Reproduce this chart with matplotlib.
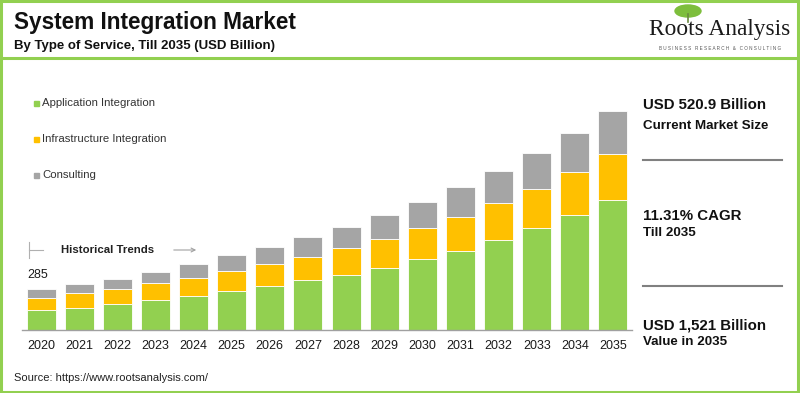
import matplotlib
matplotlib.use("Agg")
import matplotlib.pyplot as plt
from matplotlib.patches import Rectangle, Ellipse
from matplotlib.lines import Line2D

years = ["2020", "2021", "2022", "2023", "2024", "2025", "2026", "2027",
         "2028", "2029", "2030", "2031", "2032", "2033", "2034", "2035"]
application = [138, 156, 179, 207, 235, 272, 305, 348, 385, 434, 495, 553, 627, 709, 797, 902]
infrastructure = [88, 100, 105, 118, 130, 141, 155, 160, 184, 198, 214, 235, 256, 272, 300, 322]
consulting = [59, 65, 74, 81, 93, 108, 116, 137, 146, 167, 181, 204, 220, 251, 275, 297]
series_names = ["Application Integration", "Infrastructure Integration", "Consulting"]
colors = ["#92D050", "#FFC000", "#A5A5A5"]

W, H = 800, 393
plt.rcParams['font.family'] = ['Liberation Sans', 'DejaVu Sans']
fig = plt.figure(figsize=(W / 100, H / 100), dpi=100)

def fx(x):
    return x / W

def fy(y):
    return 1 - y / H

# Axes: x 22..632 px, y 100..330 px
ax = fig.add_axes([fx(22), fy(330), fx(632) - fx(22), (330 - 100) / H])
xs = list(range(len(years)))
bottom = [0] * len(years)
for vals, c in zip([application, infrastructure, consulting], colors):
    ax.bar(xs, vals, bottom=bottom, width=0.76, color=c, edgecolor="white", linewidth=0.6)
    bottom = [b + v for b, v in zip(bottom, vals)]
ax.set_xlim(-0.5, 15.5)
ax.set_ylim(0, 1600)
ax.set_xticks(xs)
ax.set_xticklabels(years, fontsize=9, color="#1a1a1a")
ax.tick_params(axis="x", length=0, pad=7)
ax.set_yticks([])
for s in ["top", "right", "left"]:
    ax.spines[s].set_visible(False)
ax.spines["bottom"].set_color("#A0A0A0")
ax.spines["bottom"].set_linewidth(1)
ax.patch.set_alpha(0)

# total label for 2020
ax.text(-0.5 + 0.15, sum([application[0], infrastructure[0], consulting[0]]) + 95, "285",
        fontsize=9, color="#1a1a1a", ha="left", va="center")

# Title
fig.text(fx(14), fy(22), "System Integration Market", fontsize=16.3, fontweight="bold",
         color="#111111", ha="left", va="center")
fig.text(fx(14), fy(46), "By Type of Service, Till 2035 (USD Billion)", fontsize=9.5,
         fontweight="bold", color="#111111", ha="left", va="center")

# Legend
for i, (name, c) in enumerate(zip(series_names, colors)):
    yy = [103, 139, 175][i]
    fig.patches.append(Rectangle((fx(34), fy(yy) - 2.5 / H), 5 / W, 5 / H,
                                 transform=fig.transFigure, color=c))
    fig.text(fx(42), fy(yy), name, fontsize=8.2, color="#333333", ha="left", va="center")

# Historical trends
fig.lines.append(Line2D([fx(29), fx(29)], [fy(242), fy(258)], transform=fig.transFigure,
                        color="#B0B0B0", lw=0.8))
fig.lines.append(Line2D([fx(29), fx(43)], [fy(250), fy(250)], transform=fig.transFigure,
                        color="#B0B0B0", lw=0.8))
fig.text(fx(61), fy(250), "Historical Trends", fontsize=8.2, fontweight="bold",
         color="#222222", ha="left", va="center")
fig.add_artist(matplotlib.patches.FancyArrowPatch((fx(171), fy(250)), (fx(199), fy(250)),
               transform=fig.transFigure, arrowstyle="->", mutation_scale=7,
               color="#A0A0A0", lw=0.8))

# Right panel
fig.text(fx(643), fy(105), "USD 520.9 Billion", fontsize=10.8, fontweight="bold",
         color="#111111", ha="left", va="center")
fig.text(fx(643), fy(126), "Current Market Size", fontsize=9.6, fontweight="bold",
         color="#111111", ha="left", va="center")
fig.lines.append(Line2D([fx(643), fx(782)], [fy(160), fy(160)], transform=fig.transFigure,
                        color="#808080", lw=1.5))
fig.text(fx(643), fy(216), "11.31% CAGR", fontsize=10.8, fontweight="bold",
         color="#111111", ha="left", va="center")
fig.text(fx(643), fy(233), "Till 2035", fontsize=9.6, fontweight="bold",
         color="#111111", ha="left", va="center")
fig.lines.append(Line2D([fx(643), fx(782)], [fy(286), fy(286)], transform=fig.transFigure,
                        color="#808080", lw=1.5))
fig.text(fx(643), fy(326), "USD 1,521 Billion", fontsize=10.8, fontweight="bold",
         color="#111111", ha="left", va="center")
fig.text(fx(643), fy(342), "Value in 2035", fontsize=9.6, fontweight="bold",
         color="#111111", ha="left", va="center")

# Source
fig.text(fx(14), fy(378), "Source: https://www.rootsanalysis.com/", fontsize=8,
         color="#222222", ha="left", va="center")

# Logo
fig.add_artist(Ellipse((fx(688), fy(11)), 26 / W, 12 / H, transform=fig.transFigure,
                       color="#7DBE3C"))
fig.lines.append(Line2D([fx(688), fx(688)], [fy(14), fy(22)], transform=fig.transFigure,
                        color="#6a8a40", lw=1.2))
fig.text(fx(720), fy(29), "Roots Analysis", fontsize=16.8, family="Liberation Serif",
         color="#1a1a1a", ha="center", va="center")
fig.text(fx(720), fy(48), "B U S I N E S S   R E S E A R C H   &   C O N S U L T I N G",
         fontsize=3.3, color="#555555", ha="center", va="center")

# Green frame
gc = "#92D050"
for (x0, y0, x1, y1) in [(1, 1, 799, 1), (1, 392, 799, 392), (1, 1, 1, 392), (798, 1, 798, 392),
                         (1, 58, 799, 58)]:
    fig.lines.append(Line2D([fx(x0), fx(x1)], [fy(y0), fy(y1)], transform=fig.transFigure,
                            color=gc, lw=2.2))

fig.savefig("out.png", dpi=100, facecolor="white")
